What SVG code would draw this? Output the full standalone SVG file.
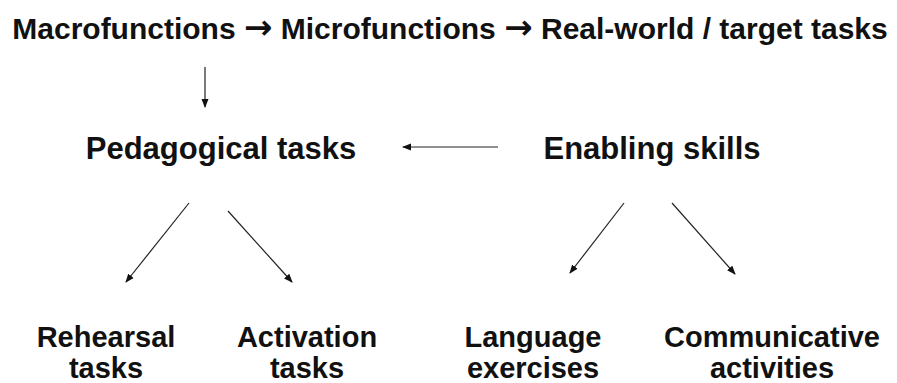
<svg xmlns="http://www.w3.org/2000/svg" width="897" height="383" viewBox="0 0 897 383">
  <style>
    text { font-family: "Liberation Sans", Arial, sans-serif; font-weight: bold; fill: #111; text-anchor: middle; }
    .title { font-size: 30px; }
    .mid { font-size: 31px; }
    .leaf { font-size: 29px; }
    .arr { font-family: "Noto Sans", "DejaVu Sans", sans-serif; font-weight: bold; font-size: 34px; }
    .conn { stroke: #222; stroke-width: 1.2; fill: none; marker-end: url(#head); }
  </style>
  <defs>
    <marker id="head" markerWidth="9" markerHeight="8" refX="8" refY="4" orient="auto" markerUnits="userSpaceOnUse">
      <path d="M0,0.5 L9,4 L0,7.5 Z" fill="#111"/>
    </marker>
  </defs>
  <rect width="897" height="383" fill="#fff"/>

  <g id="title">
    <text class="title" x="450" y="39">Macrofunctions <tspan class="arr">→</tspan> Microfunctions <tspan class="arr">→</tspan> Real-world / target tasks</text>
  </g>

  <g id="pedagogical">
    <text class="mid" x="221" y="159">Pedagogical tasks</text>
  </g>
  <g id="enabling">
    <text class="mid" x="652" y="159">Enabling skills</text>
  </g>

  <g id="rehearsal">
    <text class="leaf" x="106" y="347">Rehearsal</text>
    <text class="leaf" x="106" y="378">tasks</text>
  </g>
  <g id="activation">
    <text class="leaf" x="307" y="347">Activation</text>
    <text class="leaf" x="307" y="378">tasks</text>
  </g>
  <g id="language">
    <text class="leaf" x="533" y="347">Language</text>
    <text class="leaf" x="533" y="378">exercises</text>
  </g>
  <g id="communicative">
    <text class="leaf" x="772" y="347">Communicative</text>
    <text class="leaf" x="772" y="378">activities</text>
  </g>

  <g id="connectors">
    <line class="conn" x1="205" y1="67" x2="205" y2="107"/>
    <line class="conn" x1="498" y1="147" x2="403" y2="147"/>
    <line class="conn" x1="189" y1="203" x2="126" y2="282"/>
    <line class="conn" x1="228" y1="211" x2="292" y2="282"/>
    <line class="conn" x1="624" y1="203" x2="570" y2="273"/>
    <line class="conn" x1="672" y1="203" x2="735" y2="274"/>
  </g>
</svg>
